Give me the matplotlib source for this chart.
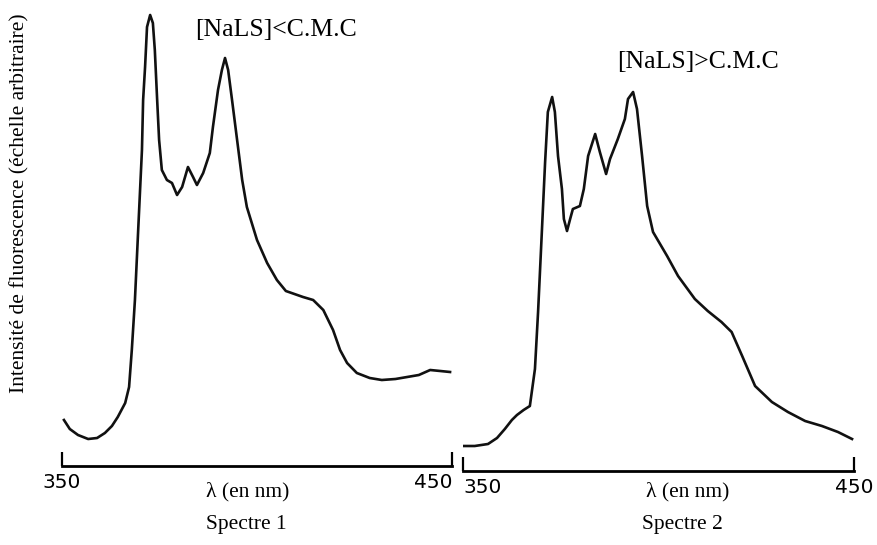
"""
Fluorescence spectra of pyrene in NaLS, below and above the C.M.C.
"""

import matplotlib
matplotlib.use('Agg')
import matplotlib.pyplot as plt

W, H = 877, 545
SERIF = ['Liberation Serif', 'DejaVu Serif']

# Spectre 1 : [NaLS] < C.M.C  (wavelength in nm, arbitrary intensity)
left_nm = [350.5, 352.0, 354.1, 356.7, 359.0, 361.0, 362.8, 364.3, 366.2, 367.2,
           367.9, 368.7, 369.5, 370.5, 370.8, 371.3, 371.8, 372.6, 373.3, 373.8,
           374.4, 374.9, 375.6, 376.9, 378.2, 379.5, 380.8, 382.3, 383.6, 384.6,
           386.2, 387.9, 388.7, 390.0, 391.0, 391.8, 392.6, 393.6, 394.9, 396.2,
           397.4, 400.0, 402.6, 405.1, 407.4, 411.8, 414.4, 417.0, 419.5, 421.3,
           423.1, 425.6, 428.9, 432.0, 435.5, 438.5, 441.5, 444.4, 447.0, 449.5]
left_int = [45, 36, 30, 26, 27, 32, 39, 48, 62, 78,
            115, 165, 232, 315, 365, 398, 438, 450, 442, 415,
            365, 325, 295, 285, 282, 270, 278, 298, 288, 280,
            292, 312, 338, 375, 395, 407, 395, 365, 325, 285,
            258, 225, 202, 185, 174, 168, 165, 155, 135, 115,
            102, 92, 87, 85, 86, 88, 90, 95, 94, 93]

# Spectre 2 : [NaLS] > C.M.C
right_nm = [350.0, 353.0, 356.4, 358.7, 360.7, 362.5, 363.8, 365.5, 367.1, 368.4,
            369.2, 370.2, 371.0, 371.7, 372.8, 373.5, 374.3, 375.3, 375.8, 376.6,
            377.4, 378.1, 379.9, 380.9, 382.0, 383.8, 385.0, 386.6, 387.6, 389.6,
            391.4, 392.2, 393.5, 394.5, 395.8, 397.1, 398.6, 402.2, 405.0, 409.3,
            412.6, 416.1, 418.7, 421.4, 424.7, 429.0, 433.1, 437.5, 441.8, 445.9,
            449.5]
right_int = [24, 24, 26, 32, 41, 50, 55, 60, 64, 101,
             158, 241, 308, 358, 373, 358, 314, 281, 251, 239,
             251, 261, 264, 281, 314, 336, 318, 296, 311, 331,
             351, 371, 378, 361, 314, 264, 238, 214, 194, 171,
             159, 148, 138, 114, 84, 68, 58, 49, 44, 38,
             31]

x_ticks = [350, 450]


def px_axes(fig, x0, x1, y_bottom):
    """Axes placed with pixel coordinates (origin top-left)."""
    return fig.add_axes([x0 / W, (H - y_bottom) / H, (x1 - x0) / W, y_bottom / H])


def style_axis(ax, ymax):
    ax.set_xlim(350, 450)
    ax.set_ylim(-1, ymax)
    ax.patch.set_alpha(0)
    for side in ['left', 'right', 'top']:
        ax.spines[side].set_visible(False)
    ax.spines['bottom'].set_linewidth(2)
    ax.set_yticks([])
    ax.set_xticks(x_ticks)
    ax.set_xticklabels([str(t) for t in x_ticks], fontsize=14.5, family='DejaVu Sans')
    ax.tick_params(axis='x', direction='in', length=10, width=1.6, pad=5)


fig = plt.figure(figsize=(W / 100, H / 100), dpi=100)

ax1 = px_axes(fig, 62, 452, 466)
ax1.plot(left_nm, left_int, color='#111111', lw=1.9, solid_joinstyle='round')
style_axis(ax1, 465)
ax1.get_xticklabels()[1].set_horizontalalignment('right')

ax2 = px_axes(fig, 463, 854, 471)
ax2.plot(right_nm, right_int, color='#111111', lw=1.9, solid_joinstyle='round')
style_axis(ax2, 470)
ax2.get_xticklabels()[0].set_horizontalalignment('left')


def px_text(x, y, s, **kw):
    fig.text(x / W, 1 - y / H, s, ha='center', va='center', family=SERIF, **kw)


px_text(276, 30, '[NaLS]<C.M.C', fontsize=18.5)
px_text(698, 62, '[NaLS]>C.M.C', fontsize=18.5)
px_text(248, 492, 'λ (en nm)', fontsize=15.5)
px_text(688, 492, 'λ (en nm)', fontsize=15.5)
px_text(246, 524, 'Spectre 1', fontsize=15.5)
px_text(682, 524, 'Spectre 2', fontsize=15.5)
px_text(20, 203, 'Intensité de fluorescence (échelle arbitraire)', fontsize=15.5, rotation=90)

fig.savefig('out.png', dpi=100)
